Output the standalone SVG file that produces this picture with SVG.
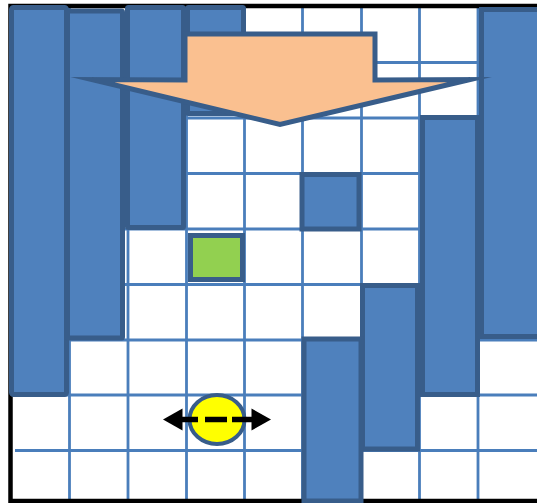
<svg xmlns="http://www.w3.org/2000/svg" width="537" height="503" viewBox="0 0 537 503">
<style>
.grid line{stroke:#4a7ebb;stroke-width:2.8}
.blk{fill:#4f81bd;stroke:#385d8a;stroke-width:5}
</style>
<rect x="0" y="0" width="537" height="503" fill="#ffffff"/>
<g id="grid" class="grid">
<line x1="69.5" y1="7" x2="69.5" y2="500"/>
<line x1="128" y1="7" x2="128" y2="500"/>
<line x1="186.5" y1="7" x2="186.5" y2="500"/>
<line x1="244.5" y1="7" x2="244.5" y2="500"/>
<line x1="302.5" y1="7" x2="302.5" y2="500"/>
<line x1="361.5" y1="7" x2="361.5" y2="500"/>
<line x1="419.5" y1="7" x2="419.5" y2="500"/>
<line x1="478" y1="7" x2="478" y2="500"/>
<line x1="12" y1="62.5" x2="537" y2="62.5"/>
<line x1="12" y1="118" x2="537" y2="118"/>
<line x1="12" y1="173.5" x2="537" y2="173.5"/>
<line x1="12" y1="229" x2="537" y2="229"/>
<line x1="12" y1="284.5" x2="537" y2="284.5"/>
<line x1="12" y1="340" x2="537" y2="340"/>
<line x1="12" y1="395" x2="537" y2="395"/>
<line x1="15" y1="450.5" x2="537" y2="450.5"/>
</g>
<rect id="frame" x="10.5" y="6" width="540" height="495" fill="none" stroke="#000000" stroke-width="4.5"/>
<g id="wall-c0"><rect class="blk" x="11.5" y="7.5" width="55" height="387" rx="2"/></g>
<g id="wall-c1"><rect class="blk" x="67.5" y="11" width="55" height="327" rx="1"/></g>
<g id="wall-c2"><rect class="blk" x="127.5" y="7.5" width="56" height="220" rx="1"/></g>
<g id="wall-c3"><rect class="blk" x="187.5" y="7.5" width="56" height="106" rx="1"/></g>
<g id="wall-c8"><rect class="blk" x="481.5" y="9.5" width="60" height="327"/></g>
<g id="wall-c7"><rect class="blk" x="422.5" y="117.5" width="55" height="277"/></g>
<g id="wall-c6"><rect class="blk" x="362.5" y="285.5" width="55" height="163.5"/></g>
<g id="wall-c5"><rect class="blk" x="304" y="339" width="57" height="162"/></g>
<g id="block-c5r3"><rect class="blk" x="302" y="174.5" width="57" height="54.5"/></g>
<g id="goal"><rect x="190.5" y="235.5" width="52" height="44" fill="#92d050" stroke="#385d8a" stroke-width="5"/></g>
<g id="down-arrow"><polygon points="185,34 375,34 375,80 470,79.5 280,124.5 92,79.5 185,80" fill="#fac090" stroke="#385d8a" stroke-width="5" stroke-linejoin="miter" stroke-miterlimit="12"/></g>
<g id="agent"><ellipse cx="217" cy="419.5" rx="27.5" ry="24.5" fill="#ffff00" stroke="#385d8a" stroke-width="4"/></g>
<g id="connectors">
<line x1="181" y1="419.5" x2="198" y2="419.5" stroke="#000000" stroke-width="5.5"/>
<line x1="205" y1="419.5" x2="227" y2="419.5" stroke="#000000" stroke-width="5.5"/>
<line x1="232" y1="419.5" x2="253" y2="419.5" stroke="#000000" stroke-width="5.5"/>
<polygon points="163,419.5 182.5,408.5 182.5,430.5" fill="#000000"/>
<polygon points="271,419.5 251.5,408.5 251.5,430.5" fill="#000000"/>
</g>
</svg>
